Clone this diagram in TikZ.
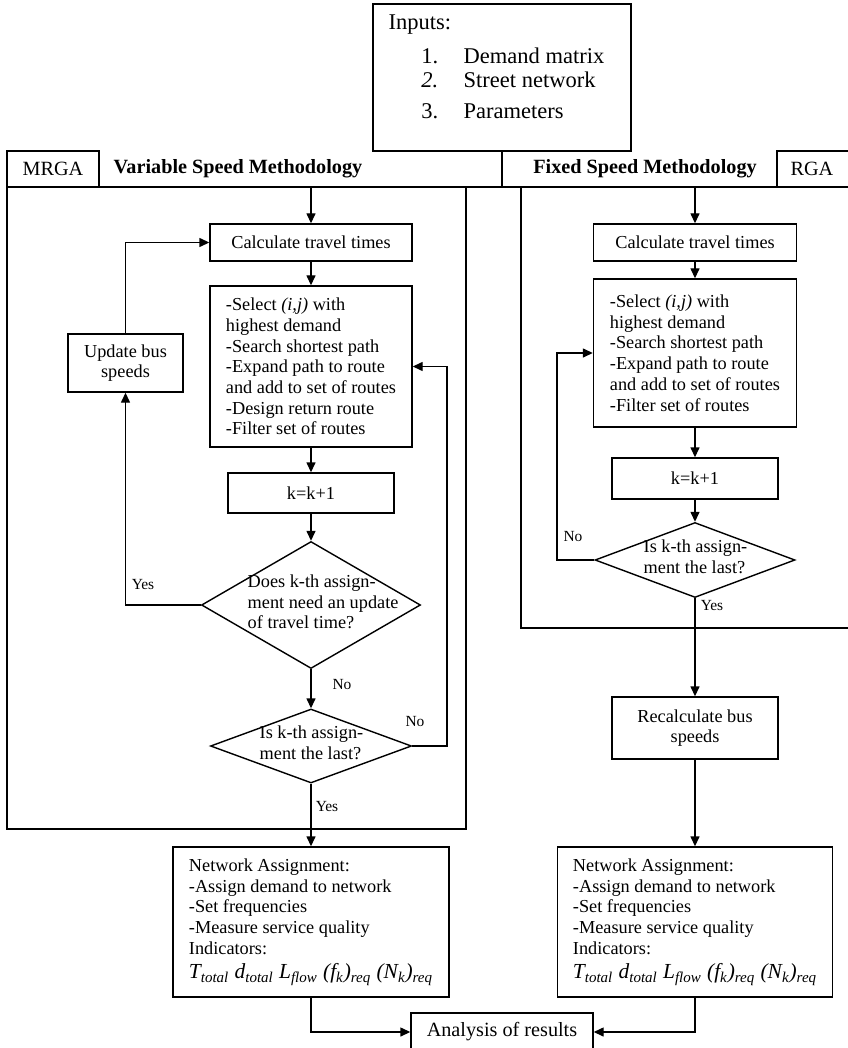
\documentclass[tikz,border=0pt]{standalone}
\usepackage{fontspec}
\setmainfont{Liberation Serif}
\usetikzlibrary{arrows.meta, shapes.geometric, calc}

\newcommand{\indic}{{\fontsize{12.2}{14}\selectfont\itshape T\textsubscript{total} d\textsubscript{total} L\textsubscript{flow} (f\textsubscript{k})\textsubscript{req} (N\textsubscript{k})\textsubscript{req}}}

\begin{document}
\begin{tikzpicture}[x=0.2mm, y=-0.2mm, >={Triangle[length=2mm,width=1.8mm]}, line width=0.8pt,
    box/.style={draw, rectangle, inner sep=0pt, align=center, font=\fontsize{10.4}{11.8}\selectfont},
    dia/.style={draw, diamond, inner sep=0pt},
    txt/.style={inner sep=0pt, font=\fontsize{10.4}{11.8}\selectfont},
    yn/.style={inner sep=0pt, font=\fontsize{8.8}{10}\selectfont},
    hdr/.style={inner sep=0pt, font=\fontsize{11.5}{13}\selectfont\bfseries}]
    \useasboundingbox (0,0) rectangle (847,1048);

    % inputs
    \node[draw, minimum width=51.6mm, minimum height=29.4mm, inner sep=0pt] (inp) at (502,77.5) {};
    \node[inner sep=0pt, anchor=west, font=\fontsize{12.8}{15}\selectfont] (inpT) at (388,25) {Inputs:};
    \foreach \n/\t/\y in {1./Demand matrix/56, \textit{2.}/Street network/80, 3./Parameters/111}{
        \node[inner sep=0pt, anchor=east, font=\fontsize{12.8}{15}\selectfont] (num\y) at (439,\y) {\n};
        \node[inner sep=0pt, anchor=west, font=\fontsize{12.8}{15}\selectfont] (item\y) at (463,\y) {\t};
    }

    % header row
    \node[draw, minimum width=18.4mm, minimum height=7.2mm, inner sep=0pt, font=\fontsize{11.5}{13}\selectfont] (mrga) at (53,169) {MRGA};
    \node[hdr] (vsm) at (238,169) {Variable Speed Methodology};
    \node[hdr] (fsm) at (645,169) {Fixed Speed Methodology};
    \node[inner sep=0pt, font=\fontsize{11.5}{13}\selectfont] (rga) at (812,169) {RGA};
    \draw (7,187) -- (848,187);
    \draw (inp.south) -- (502,187);
    \draw (848,151) -| (777,187);
    \draw (7,187) |- (466,829) -- (466,187);
    \draw (521,187) |- (848,628);

    % variable speed (MRGA)
    \node[box, minimum width=40.4mm, minimum height=7.4mm] (calcL) at (311,242.5) {Calculate travel times};
    \node[box, minimum width=40.4mm, minimum height=32.2mm, align=left] (selL) at (311,366.5)
        {-Select \textit{(i,j)} with\\highest demand\\-Search shortest path\\-Expand path to route\\and add to set of routes\\-Design return route\\-Filter set of routes};
    \node[box, minimum width=33.2mm, minimum height=8mm] (kL) at (311,493) {k=k+1};
    \node[dia, minimum width=43.8mm, minimum height=25.4mm] (dA) at (311,605) {};
    \node[txt, align=left, anchor=west] (dAT) at (247,602) {Does k-th assign-\\ment need an update\\of travel time?};
    \node[dia, minimum width=40.2mm, minimum height=14.8mm] (dB) at (311,746) {};
    \node[txt, align=left, anchor=west] (dBT) at (259,743) {Is k-th assign-\\ment the last?};
    \node[box, minimum width=23mm, minimum height=11.6mm] (updL) at (125.5,363) {Update bus\\speeds};
    \node[box, minimum width=55.2mm, minimum height=30mm, align=left] (naL) at (311,922)
        {Network Assignment:\\-Assign demand to network\\-Set frequencies\\-Measure service quality\\Indicators:\\[0.8mm]\indic};

    % fixed speed (RGA)
    \node[box, minimum width=40.6mm, minimum height=7.4mm] (calcR) at (695,242.5) {Calculate travel times};
    \node[box, minimum width=40.6mm, minimum height=29.6mm, align=left] (selR) at (695,353)
        {-Select \textit{(i,j)} with\\highest demand\\-Search shortest path\\-Expand path to route\\and add to set of routes\\-Filter set of routes};
    \node[box, minimum width=33.2mm, minimum height=8.2mm] (kR) at (695,478.5) {k=k+1};
    \node[dia, minimum width=40mm, minimum height=15mm] (dC) at (695,560) {};
    \node[txt, align=left, anchor=west] (dCT) at (643,557) {Is k-th assign-\\ment the last?};
    \node[box, minimum width=33.2mm, minimum height=12.4mm] (recalc) at (695,728) {Recalculate bus\\speeds};
    \node[box, minimum width=55mm, minimum height=30mm, align=left] (naR) at (695,922)
        {Network Assignment:\\-Assign demand to network\\-Set frequencies\\-Measure service quality\\Indicators:\\[0.8mm]\indic};

    \node[box, minimum width=36.4mm, minimum height=7.6mm, font=\fontsize{11.5}{13}\selectfont] (ana) at (502,1032) {Analysis of results};

    % flow left
    \coordinate (hL) at (311,187);
    \coordinate (rL) at (447,366.5);
    \draw[->] (hL) -- (calcL);
    \draw[->] (calcL) -- (selL);
    \draw[->] (selL) -- (kL);
    \draw[->] (kL) -- (dA);
    \draw[->] (dA) -- (dB);
    \draw[->] (dB) -- (naL);
    \draw[->] (dA.west) -| (updL.south);
    \draw[->] (updL.north) |- (calcL.west);
    \draw[->] (dB.east) -| (rL) -- (selL.east);
    \node[yn] (yA) at (143,585) {Yes};
    \node[yn] (nA) at (342,685) {No};
    \node[yn] (nB) at (415,722) {No};
    \node[yn] (yB) at (327,807) {Yes};

    % flow right
    \coordinate (hR) at (695,187);
    \coordinate (lR) at (557,353);
    \draw[->] (hR) -- (calcR);
    \draw[->] (calcR) -- (selR);
    \draw[->] (selR) -- (kR);
    \draw[->] (kR) -- (dC);
    \draw[->] (dC) -- (recalc);
    \draw[->] (recalc) -- (naR);
    \draw[->] (dC.west) -| (lR) -- (selR.west);
    \node[yn] (nC) at (573,537) {No};
    \node[yn] (yC) at (712,606) {Yes};

    % results
    \draw[->] (naL.south) |- (ana.west);
    \draw[->] (naR.south) |- (ana.east);
\end{tikzpicture}
\end{document}
